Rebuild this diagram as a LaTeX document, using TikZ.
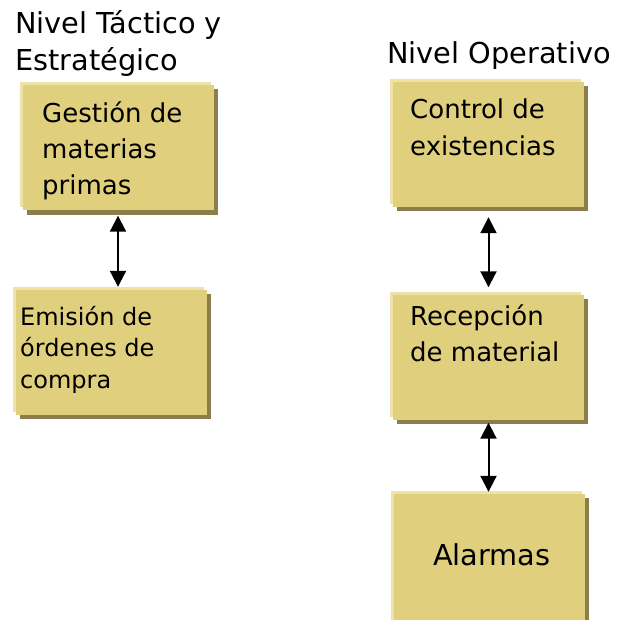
\documentclass[tikz,border=0pt]{standalone}
\usepackage{fontspec}
\setmainfont{DejaVu Sans}
\usetikzlibrary{arrows.meta, shadows}
\definecolor{oro}{RGB}{224,208,126}
\definecolor{oroclaro}{RGB}{238,226,168}
\definecolor{orooscuro}{RGB}{139,126,74}

\begin{document}
\begin{tikzpicture}[x=1pt, y=-1pt,
    caja/.style={rectangle, fill=oro, inner sep=0pt,
        minimum width=191pt, minimum height=125pt,
        general shadow={fill=orooscuro, shadow xshift=4pt, shadow yshift=-4pt},
        general shadow={fill=oroclaro, shadow xshift=-3pt, shadow yshift=3pt}},
    texto/.style={anchor=north west, inner sep=0pt, align=left,
        font=\fontsize{26}{36}\selectfont},
    titulo/.style={texto, font=\fontsize{28.8}{37}\selectfont},
    flecha/.style={{Triangle[width=16pt,length=16pt]}-{Triangle[width=16pt,length=16pt]},
        line width=2pt}]
			\useasboundingbox (0,0) rectangle (617,620);

			% Headings
			\node[titulo] (tactico) at (15,6) {\rule{0pt}{27pt}Nivel Táctico y\\Estratégico};
			\node[titulo] (operativo) at (387,36) {\rule{0pt}{27pt}Nivel Operativo};

			% Boxes, left column
			\node[caja] (gestion) at (118,148) {};
			\node[caja] (emision) at (111.5,352.5) {};

			% Boxes, right column
			\node[caja] (control) at (488.5,144.5) {};
			\node[caja] (recepcion) at (488.5,357) {};
			\node[caja, minimum height=140pt] (alarmas) at (489.5,564) {};

			% Box texts
			\node[texto] (gestionT) at (42,98) {\rule{0pt}{24pt}Gestión de\\materias\\primas};
			\node[texto, font=\fontsize{24}{31.5}\selectfont] (emisionT) at (20,302)
				{\rule{0pt}{23pt}Emisión de\\órdenes de\\compra};
			\node[texto, font=\fontsize{26}{37}\selectfont] (controlT) at (410,94)
				{\rule{0pt}{24pt}Control de\\existencias};
			\node[texto] (recepcionT) at (410,301) {\rule{0pt}{24pt}Recepción\\de material};
			\node[titulo] (alarmasT) at (433,538) {\rule{0pt}{27pt}Alarmas};

			% Arrows
			\draw[flecha, shorten <=5pt, shorten >=3pt]
				(gestion.south) -- (gestion.south |- emision.north);
			\draw[flecha, shorten <=10pt, shorten >=7pt]
				(control.south) -- (control.south |- recepcion.north);
			\draw[flecha, shorten <=3pt, shorten >=2pt]
				(recepcion.south) -- (recepcion.south |- alarmas.north);
		\end{tikzpicture}
\end{document}
